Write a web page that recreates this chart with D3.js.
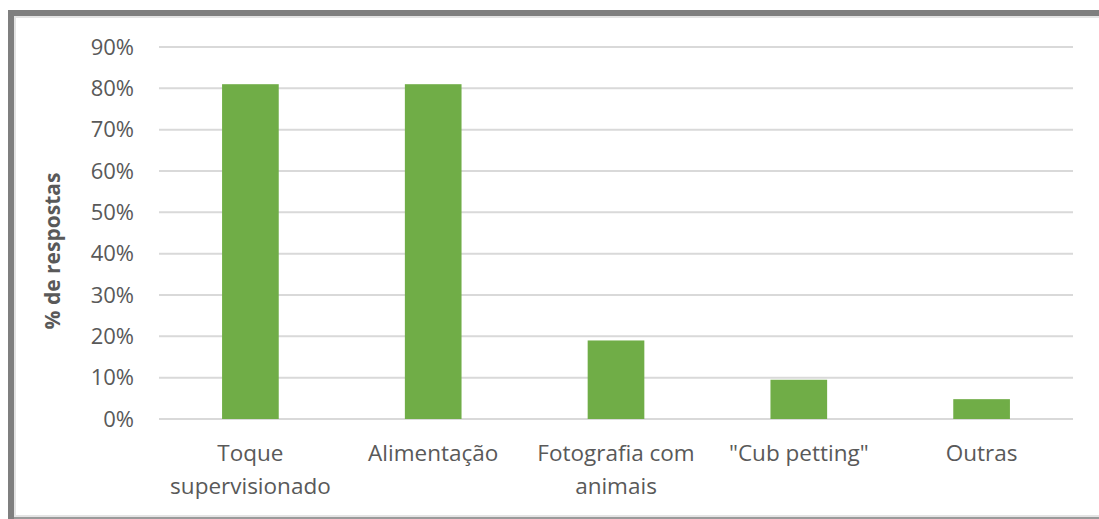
<!DOCTYPE html>
<html><head><meta charset="utf-8">
<script src="https://cdn.jsdelivr.net/npm/d3@7"></script>
<style>html,body{margin:0;padding:0;background:#fff;}svg{display:block;}</style>
</head><body>
<svg id="c" width="1099" height="519"></svg>
<script>
const categories = [["Toque","supervisionado"],["Alimentação"],["Fotografia com","animais"],["\"Cub petting\""],["Outras"]];
const values = [0.81, 0.81, 0.19, 0.095, 0.048];
const yTicks = [0,0.1,0.2,0.3,0.4,0.5,0.6,0.7,0.8,0.9];
const yTitle = "% de respostas";

const svg = d3.select("#c");
const font = "'Open Sans', Calibri, sans-serif";
const textColor = "#595959";

// frame
svg.append("rect").attr("x",8).attr("y",10).attr("width",1091).attr("height",6).attr("fill","#7f7f7f");
svg.append("rect").attr("x",8).attr("y",10).attr("width",6).attr("height",509).attr("fill","#7f7f7f");
svg.append("rect").attr("x",14).attr("y",16).attr("width",1085).attr("height",2).attr("fill","#e4e4e4");
svg.append("rect").attr("x",14).attr("y",16).attr("width",2).attr("height",503).attr("fill","#e4e4e4");
svg.append("rect").attr("x",14).attr("y",515).attr("width",1085).attr("height",2).attr("fill","#e4e4e4");
svg.append("rect").attr("x",14).attr("y",517).attr("width",1085).attr("height",2).attr("fill","#9a9a9a");

const x0 = 159, x1 = 1073, yBottom = 419, yTop = 47;
const x = d3.scaleBand().domain(d3.range(categories.length)).range([x0,x1]).paddingInner(0.69).paddingOuter(0.345);
const y = d3.scaleLinear().domain([0,0.9]).range([yBottom,yTop]);

// gridlines
svg.append("g").selectAll("line").data(yTicks).join("line")
  .attr("x1",x0).attr("x2",x1).attr("y1",d=>y(d)).attr("y2",d=>y(d))
  .attr("stroke","#d9d9d9").attr("stroke-width",2);

// y axis labels
const yAxis = d3.axisLeft(y).tickValues(yTicks).tickFormat(d3.format(".0%")).tickSize(0).tickPadding(25);
const gy = svg.append("g").attr("transform",`translate(${x0},0)`).call(yAxis);
gy.select(".domain").remove();
gy.selectAll("text").attr("fill",textColor).style("font-family",font).style("font-size","22px");

// bars
svg.append("g").selectAll("rect").data(values).join("rect")
  .attr("x",(d,i)=>x(i)).attr("width",x.bandwidth())
  .attr("y",d=>y(d)).attr("height",d=>yBottom-y(d))
  .attr("fill","#70ad47");

// x labels
const gx = svg.append("g");
categories.forEach((lines,i)=>{
  const t = gx.append("text").attr("x",x(i)+x.bandwidth()/2).attr("y",461)
    .attr("text-anchor","middle").attr("fill",textColor)
    .style("font-family",font).style("font-size","22.5px");
  lines.forEach((l,j)=>t.append("tspan").attr("x",x(i)+x.bandwidth()/2).attr("dy",j===0?0:33).text(l));
});

// y title
svg.append("text").attr("transform","translate(60,251) rotate(-90)")
  .attr("text-anchor","middle").attr("fill",textColor)
  .style("font-family",font).style("font-size","21px").style("font-weight","bold")
  .text(yTitle);
</script>
</body></html>
